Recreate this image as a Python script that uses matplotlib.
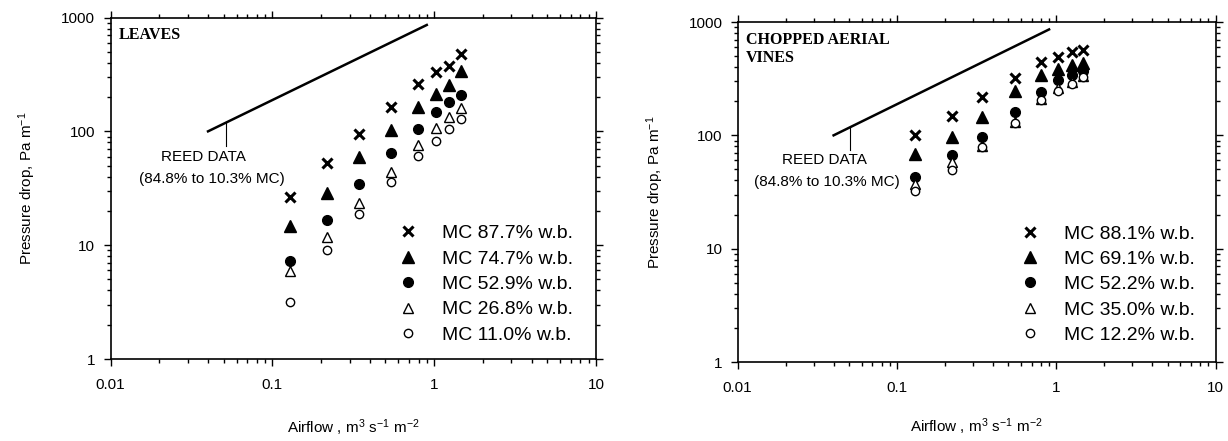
import matplotlib
matplotlib.use("Agg")
import matplotlib.pyplot as plt
import matplotlib.ticker as ticker

plt.rcParams['font.family'] = ['Liberation Sans', 'DejaVu Sans']
plt.rcParams['mathtext.fontset'] = 'custom'
plt.rcParams['mathtext.rm'] = 'Liberation Sans'
plt.rcParams['mathtext.it'] = 'Liberation Sans'

# Datos
airflow_leaves = [0.128, 0.218, 0.341, 0.541, 0.789, 1.02, 1.24, 1.46]
leaves_mc = ["MC 87.7% w.b.", "MC 74.7% w.b.", "MC 52.9% w.b.", "MC 26.8% w.b.", "MC 11.0% w.b."]
leaves_877 = [26.7, 52.4, 94, 162, 258, 334, 377, 477]
leaves_747 = [14.8, 28.6, 60, 103, 162, 212, 255, 338]
leaves_529 = [7.3, 16.6, 34.7, 64.5, 105, 149, 182, 208]
leaves_268 = [5.9, 11.7, 23.4, 43.7, 76, 106, 133, 159]
leaves_110 = [3.2, 9.1, 18.7, 35.9, 60.4, 82.8, 104, 128]

airflow_vines = [0.13, 0.22, 0.343, 0.549, 0.806, 1.024, 1.25, 1.48]
vines_mc = ["MC 88.1% w.b.", "MC 69.1% w.b.", "MC 52.2% w.b.", "MC 35.0% w.b.", "MC 12.2% w.b."]
vines_881 = [101, 148, 219, 321, 447, 495, 547, 566]
vines_691 = [69, 97, 146, 246, 338, 382, 418, 438]
vines_522 = [43, 67, 97, 161, 241, 306, 343, 370]
vines_350 = [37, 58.6, 80.5, 132, 208, 260, 298, 334]
vines_122 = [32.3, 49.4, 79, 129, 205, 246, 284, 325]

# Linea de Reed (84.8% a 10.3% MC)
reed_x = [0.04, 0.9]
reed_y = [100, 860]

# estilo de marcadores: (marker, size, facecolor, edgewidth)
estilos = [
    ('x', 7, 'k', 2.2),
    ('^', 8, 'k', 1.0),
    ('o', 7, 'k', 1.0),
    ('^', 7, 'white', 1.0),
    ('o', 6, 'white', 1.0),
]


def dibujar_panel(ax, airflow, series, etiquetas, titulo, reed_txt_x, leader_x, leg_y, xlab_y):
    for vals, lab, (m, ms, fc, mew) in zip(series, etiquetas, estilos):
        ax.plot(airflow, vals, linestyle='none', marker=m, markersize=ms,
                markerfacecolor=fc, markeredgecolor='k', markeredgewidth=mew,
                color='k', label=lab)
    ax.plot(reed_x, reed_y, color='k', lw=1.8)
    ax.plot([leader_x, leader_x], [75, 118], color='k', lw=0.8)
    ax.text(reed_txt_x[0], 60, "REED DATA", ha='center', va='center', fontsize=11)
    ax.text(reed_txt_x[1], 38.5, "(84.8% to 10.3% MC)", ha='center', va='center', fontsize=11)
    ax.text(0.017, 0.972, titulo, transform=ax.transAxes, ha='left', va='top',
            fontsize=11.5, fontweight='bold', family='Liberation Serif', linespacing=1.2)

    ax.set_xscale('log')
    ax.set_yscale('log')
    ax.set_xlim(0.01, 10)
    ax.set_ylim(1, 1000)
    fmt = ticker.FuncFormatter(lambda v, p: f"{v:g}")
    ax.xaxis.set_major_formatter(fmt)
    ax.yaxis.set_major_formatter(fmt)
    ax.xaxis.set_minor_locator(ticker.LogLocator(base=10, subs=range(2, 10)))
    ax.yaxis.set_minor_locator(ticker.LogLocator(base=10, subs=range(2, 10)))
    ax.xaxis.set_minor_formatter(ticker.NullFormatter())
    ax.yaxis.set_minor_formatter(ticker.NullFormatter())
    ax.tick_params(which='both', direction='out', top=True, right=True,
                   labelsize=11, width=1)
    ax.tick_params(which='major', length=5, pad=6)
    ax.tick_params(which='minor', length=3)
    ax.tick_params(axis='x', which='major', pad=9)
    for spine in ax.spines.values():
        spine.set_linewidth(1.2)

    ax.set_xlabel("Airflow , m$^{3}$ s$^{\\mathrm{-1}}$ m$^{\\mathrm{-2}}$", fontsize=11)
    ax.set_ylabel("Pressure drop, Pa m$^{\\mathrm{-1}}$", fontsize=11)
    ax.xaxis.set_label_coords(0.5, xlab_y)
    ax.yaxis.set_label_coords(-0.15, 0.5)

    ax.legend(loc='center left', bbox_to_anchor=(0.592, leg_y), frameon=False,
              fontsize=14, handlelength=1.0, handletextpad=1.25, labelspacing=0.4,
              borderpad=0, borderaxespad=0, numpoints=1)


fig = plt.figure(figsize=(12.28, 4.41), dpi=100)
ax1 = fig.add_axes([0.0901, 0.1859, 0.3952, 0.7744])
ax2 = fig.add_axes([0.6007, 0.1791, 0.3893, 0.771])

dibujar_panel(ax1, airflow_leaves,
              [leaves_877, leaves_747, leaves_529, leaves_268, leaves_110],
              leaves_mc, "LEAVES", (0.0376, 0.042), 0.052, 0.219, -0.17)
dibujar_panel(ax2, airflow_vines,
              [vines_881, vines_691, vines_522, vines_350, vines_122],
              vines_mc, "CHOPPED AERIAL\nVINES", (0.0348, 0.0363), 0.0508, 0.228, -0.16)

fig.savefig("out.png", dpi=100)
plt.close(fig)
